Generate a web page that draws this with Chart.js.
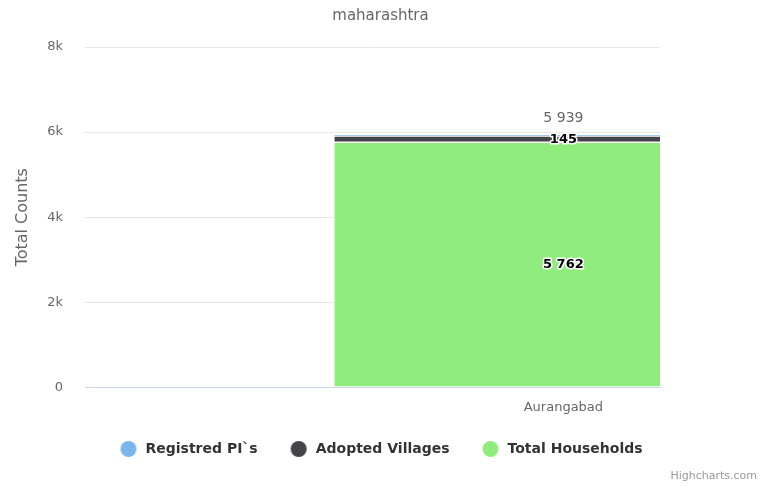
<!DOCTYPE html>
<html>
<head>
<meta charset="utf-8">
<script src="https://cdn.jsdelivr.net/npm/chart.js@4.4.0/dist/chart.umd.min.js"></script>
<style>
  html, body { margin: 0; padding: 0; background: #ffffff; }
  #wrap { width: 761px; height: 486px; }
</style>
</head>
<body>
<div id="wrap"><canvas id="chart"></canvas></div>
<script>
const categories = ["Aurangabad"];
const categoryPos = [0.832];
const registeredPIs = [32];
const adoptedVillages = [145];
const totalHouseholds = [5762];
const yTicks = [0, 2000, 4000, 6000, 8000];

const fmt = (v) => String(v).replace(/\B(?=(\d{3})+(?!\d))/g, " ");

const pts = (arr) => arr.map((v, i) => ({ x: categoryPos[i], y: v }));

// legend marker: circle with room on the left, so the items spread wider
// without needing a big legend padding (which also adds height)
const markerLeft = 18;
function marker(color) {
    const c = document.createElement("canvas");
    c.width = markerLeft + 18;
    c.height = 16;
    const g = c.getContext("2d");
    g.fillStyle = color;
    g.beginPath();
    g.arc(markerLeft + 8, 8, 8, 0, Math.PI * 2);
    g.fill();
    return c;
}

// nudge the legend row a bit to the left
const legendShift = {
    id: "legendShift",
    afterLayout(chart) {
        chart.legend.left -= 8;
        chart.legend.right -= 8;
    }
};

// value labels inside segments + stack total above
const valueLabels = {
    id: "valueLabels",
    afterDatasetsDraw(chart) {
        const ctx = chart.ctx;
        ctx.save();
        ctx.textAlign = "center";
        ctx.textBaseline = "middle";
        chart.data.datasets.forEach((ds, di) => {
            if (!ds.showLabel) return;
            chart.getDatasetMeta(di).data.forEach((el, i) => {
                const y = (el.y + el.base) / 2;
                ctx.font = "bold 13px 'DejaVu Sans'";
                ctx.lineJoin = "round";
                ctx.lineWidth = 3;
                ctx.strokeStyle = "#ffffff";
                ctx.strokeText(fmt(ds.data[i].y), el.x, y);
                ctx.fillStyle = "#000000";
                ctx.fillText(fmt(ds.data[i].y), el.x, y);
            });
        });
        // stack totals
        const last = chart.getDatasetMeta(chart.data.datasets.length - 1);
        last.data.forEach((el, i) => {
            let sum = 0;
            chart.data.datasets.forEach(ds => sum += ds.data[i].y);
            ctx.font = "14px 'DejaVu Sans'";
            ctx.fillStyle = "#666666";
            ctx.fillText(fmt(sum), el.x, el.y - 16);
        });
        ctx.font = "11px 'DejaVu Sans'";
        ctx.textAlign = "right";
        ctx.fillStyle = "#999999";
        ctx.fillText("Highcharts.com", 757, 476);
        ctx.restore();
    }
};

const barW = 459;

new Chart(document.getElementById("chart"), {
    type: "bar",
    plugins: [legendShift, valueLabels],
    data: {
        datasets: [
            { label: "Total Households", data: pts(totalHouseholds), backgroundColor: "#90ed7d", showLabel: true },
            { label: "Adopted Villages", data: pts(adoptedVillages), backgroundColor: "#434348", showLabel: true },
            { label: "Registred PI`s", data: pts(registeredPIs), backgroundColor: "#7cb5ec", showLabel: false }
        ].map(d => Object.assign(d, {
            borderColor: "#ffffff", borderWidth: 1, borderSkipped: false,
            barThickness: barW, pointStyle: marker(d.backgroundColor)
        }))
    },
    options: {
        responsive: true,
        maintainAspectRatio: false,
        animation: false,
        layout: { padding: { top: 0, bottom: 20, left: 0, right: 0 } },
        plugins: {
            tooltip: { enabled: false },
            title: {
                display: true,
                text: "maharashtra",
                color: "#666666",
                font: { family: "DejaVu Sans", size: 15, weight: "normal" },
                padding: { top: 7, bottom: 22 }
            },
            legend: {
                position: "bottom",
                reverse: true,
                labels: {
                    usePointStyle: true,
                    pointStyleWidth: markerLeft + 18,
                    boxHeight: 14,
                    padding: 15,
                    color: "#333333",
                    font: { family: "DejaVu Sans", size: 14, weight: "bold" }
                }
            }
        },
        scales: {
            x: {
                type: "linear",
                stacked: true,
                offset: false,
                min: 0,
                max: 1,
                afterBuildTicks: (s) => { s.ticks = categoryPos.map(v => ({ value: v })); },
                ticks: {
                    autoSkip: false,
                    maxRotation: 0,
                    padding: 12,
                    color: "#666666",
                    font: { family: "DejaVu Sans", size: 13 },
                    callback: (v) => categories[categoryPos.indexOf(v)] || ""
                },
                grid: { display: false, drawTicks: false, offset: false },
                border: { display: true, color: "#ccd6eb" }
            },
            y: {
                stacked: true,
                min: 0,
                max: 8000,
                afterBuildTicks: (s) => { s.ticks = yTicks.map(v => ({ value: v })); },
                afterFit: (s) => { s.width = 85; },
                ticks: {
                    padding: 22,
                    color: "#666666",
                    font: { family: "DejaVu Sans", size: 13 },
                    callback: (v) => v === 0 ? "0" : (v / 1000) + "k"
                },
                title: {
                    display: true,
                    text: "Total Counts",
                    color: "#666666",
                    font: { family: "DejaVu Sans", size: 16 },
                    padding: { top: 13, bottom: 0 }
                },
                grid: {
                    drawTicks: false,
                    color: (c) => c.tick && c.tick.value === 0 ? "rgba(0,0,0,0)" : "#e6e6e6"
                },
                border: { display: false }
            },
            yRight: {
                position: "right",
                display: true,
                afterFit: (s) => { s.width = 101; },
                ticks: { display: false },
                grid: { display: false },
                border: { display: false }
            }
        }
    }
});
</script>
</body>
</html>
